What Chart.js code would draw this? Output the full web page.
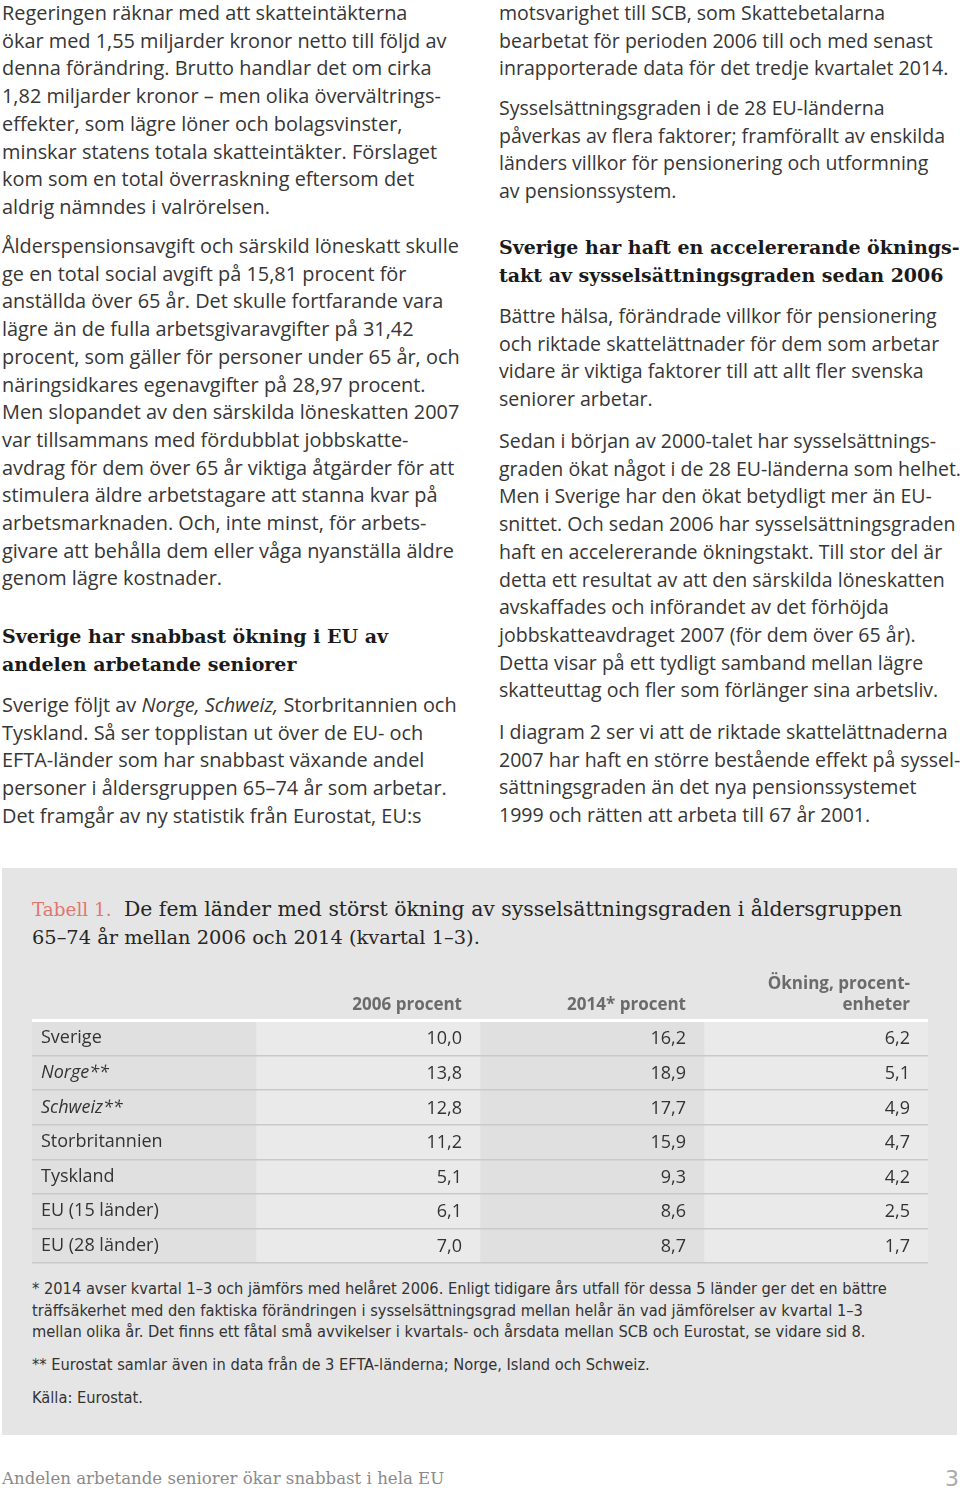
<!DOCTYPE html>
<html lang="sv">
<head>
<meta charset="UTF-8">
<title>Tabell 1</title>
<script src="https://cdn.jsdelivr.net/npm/chart.js"></script>
<style>
    html, body { margin: 0; padding: 0; background: #fff; }
    body { width: 960px; height: 1493px; position: relative; overflow: hidden; font-family: "Open Sans", sans-serif; color: #363636; }
    .txt { position: absolute; font-size: 19.9px; line-height: 27.7px; white-space: nowrap; }
    .txt.r { font-size: 19.55px; }
    .rub { position: absolute; font-family: "DejaVu Serif", serif; font-weight: bold; font-size: 19px; line-height: 28px; color: #1a1a1a; white-space: nowrap; }
    .box { position: absolute; left: 2px; top: 868px; width: 955px; height: 567px; background: #e5e5e5; }
    .title { position: absolute; left: 32px; top: 895px; font-family: "DejaVu Serif", serif; font-size: 19.4px; line-height: 28px; color: #262626; white-space: nowrap; }
    .title .nr { color: #e2766f; font-size: 18.4px; }
    .title .l1 { font-size: 20.4px; }
    .note { position: absolute; left: 32px; font-family: "DejaVu Sans Condensed", "Liberation Sans Narrow", sans-serif; font-size: 16.3px; line-height: 21.5px; color: #333; white-space: nowrap; }
    #chartWrap { position: absolute; left: 32px; top: 965px; width: 896px; height: 301px; }
    .foot { position: absolute; left: 2px; top: 1469px; font-family: "DejaVu Serif", serif; font-size: 16.6px; color: #8a8a8a; white-space: nowrap; }
    .page { position: absolute; left: 945px; top: 1466px; font-family: "DejaVu Sans", sans-serif; font-size: 22px; color: #aaa; }
</style>
</head>
<body>

<div class="txt" style="left:2px; top:-1px;">Regeringen räknar med att skatteintäkterna<br>ökar med 1,55 miljarder kronor netto till följd av<br>denna förändring. Brutto handlar det om cirka<br>1,82 miljarder kronor – men olika övervältrings-<br>effekter, som lägre löner och bolagsvinster,<br>minskar statens totala skatteintäkter. Förslaget<br>kom som en total överraskning eftersom det<br>aldrig nämndes i valrörelsen.</div>

<div class="txt" style="left:2px; top:232px;">Ålderspensionsavgift och särskild löneskatt skulle<br>ge en total social avgift på 15,81 procent för<br>anställda över 65 år. Det skulle fortfarande vara<br>lägre än de fulla arbetsgivaravgifter på 31,42<br>procent, som gäller för personer under 65 år, och<br>näringsidkares egenavgifter på 28,97 procent.<br>Men slopandet av den särskilda löneskatten 2007<br>var tillsammans med fördubblat jobbskatte-<br>avdrag för dem över 65 år viktiga åtgärder för att<br>stimulera äldre arbetstagare att stanna kvar på<br>arbetsmarknaden. Och, inte minst, för arbets-<br>givare att behålla dem eller våga nyanställa äldre<br>genom lägre kostnader.</div>

<div class="rub" style="left:2px; top:622px;">Sverige har snabbast ökning i EU av<br>andelen arbetande seniorer</div>

<div class="txt" style="left:2px; top:691px;">Sverige följt av <i>Norge, Schweiz,</i> Storbritannien och<br>Tyskland. Så ser topplistan ut över de EU- och<br>EFTA-länder som har snabbast växande andel<br>personer i åldersgruppen 65–74 år som arbetar.<br>Det framgår av ny statistik från Eurostat, EU:s</div>

<div class="txt r" style="left:499px; top:-1px;">motsvarighet till SCB, som Skattebetalarna<br>bearbetat för perioden 2006 till och med senast<br>inrapporterade data för det tredje kvartalet 2014.</div>

<div class="txt r" style="left:499px; top:94px;">Sysselsättningsgraden i de 28 EU-länderna<br>påverkas av flera faktorer; framförallt av enskilda<br>länders villkor för pensionering och utformning<br>av pensionssystem.</div>

<div class="rub" style="left:499px; top:233px;">Sverige har haft en accelererande öknings-<br>takt av sysselsättningsgraden sedan 2006</div>

<div class="txt r" style="left:499px; top:302px;">Bättre hälsa, förändrade villkor för pensionering<br>och riktade skattelättnader för dem som arbetar<br>vidare är viktiga faktorer till att allt fler svenska<br>seniorer arbetar.</div>

<div class="txt r" style="left:499px; top:427px;">Sedan i början av 2000-talet har sysselsättnings-<br>graden ökat något i de 28 EU-länderna som helhet.<br>Men i Sverige har den ökat betydligt mer än EU-<br>snittet. Och sedan 2006 har sysselsättningsgraden<br>haft en accelererande ökningstakt. Till stor del är<br>detta ett resultat av att den särskilda löneskatten<br>avskaffades och införandet av det förhöjda<br>jobbskatteavdraget 2007 (för dem över 65 år).<br>Detta visar på ett tydligt samband mellan lägre<br>skatteuttag och fler som förlänger sina arbetsliv.</div>

<div class="txt r" style="left:499px; top:718px;">I diagram 2 ser vi att de riktade skattelättnaderna<br>2007 har haft en större bestående effekt på syssel-<br>sättningsgraden än det nya pensionssystemet<br>1999 och rätten att arbeta till 67 år 2001.</div>

<div class="box"></div>
<div class="title"><span class="nr">Tabell 1.</span>&nbsp; <span class="l1">De fem länder med störst ökning av sysselsättningsgraden i åldersgruppen</span><br>65–74 år mellan 2006 och 2014 (kvartal 1–3).</div>

<div id="chartWrap"><canvas id="tabell" width="896" height="301"></canvas></div>

<div class="note" style="top:1278px;">* 2014 avser kvartal 1–3 och jämförs med helåret 2006. Enligt tidigare års utfall för dessa 5 länder ger det en bättre<br>träffsäkerhet med den faktiska förändringen i sysselsättningsgrad mellan helår än vad jämförelser av kvartal 1–3<br>mellan olika år. Det finns ett fåtal små avvikelser i kvartals- och årsdata mellan SCB och Eurostat, se vidare sid 8.</div>
<div class="note" style="top:1354px;">** Eurostat samlar även in data från de 3 EFTA-länderna; Norge, Island och Schweiz.</div>
<div class="note" style="top:1387px;">Källa: Eurostat.</div>

<div class="foot">Andelen arbetande seniorer ökar snabbast i hela EU</div>
<div class="page">3</div>

<script>
    // tabellens data
    const countries = ['Sverige', 'Norge**', 'Schweiz**', 'Storbritannien', 'Tyskland', 'EU (15 länder)', 'EU (28 länder)'];
    const pct2006 = [10.0, 13.8, 12.8, 11.2, 5.1, 6.1, 7.0];
    const pct2014 = [16.2, 18.9, 17.7, 15.9, 9.3, 8.6, 8.7];
    const change = [6.2, 5.1, 4.9, 4.7, 4.2, 2.5, 1.7];
    const headers = [[''], ['2006 procent'], ['2014* procent'], ['Ökning, procent-', 'enheter']];

    const italicCountries = ['Norge**', 'Schweiz**'];
    const colShades = ['#e0e0e0', '#eaeaea', '#e0e0e0', '#eaeaea'];
    const valueCols = [pct2006, pct2014, change];

    const fmt = v => v.toFixed(1).replace('.', ',');

    // en stapel per kolumn och rad ger cellbakgrunden
    const datasets = colShades.map((shade, c) => ({
        data: countries.map(() => [c, c + 1]),
        backgroundColor: shade,
        borderWidth: 0,
        categoryPercentage: 1,
        barPercentage: 1
    }));

    const cellText = {
        id: 'cellText',
        afterDraw(chart) {
            const ctx = chart.ctx;
            const x = chart.scales.x;
            const y = chart.scales.y;
            const top = chart.chartArea.top;
            ctx.save();
            ctx.textAlign = 'right';
            ctx.textBaseline = 'middle';

            // kolumnrubriker
            ctx.font = 'bold 17px "Open Sans"';
            ctx.fillStyle = '#6b6b6b';
            headers.forEach((lines, c) => {
                const right = x.getPixelForValue(c + 1) - 18;
                lines.forEach((line, k) => {
                    const fromBottom = lines.length - 1 - k;
                    ctx.fillText(line, right, top - 16 - fromBottom * 21);
                });
            });

            // värden
            ctx.font = '18px "Open Sans"';
            ctx.fillStyle = '#333';
            valueCols.forEach((vals, c) => {
                const right = x.getPixelForValue(c + 2) - 18;
                vals.forEach((v, i) => {
                    ctx.fillText(fmt(v), right, y.getPixelForValue(i) + 1);
                });
            });
            ctx.restore();
        }
    };

    new Chart(document.getElementById('tabell'), {
        type: 'bar',
        data: { labels: countries, datasets: datasets },
        options: {
            indexAxis: 'y',
            responsive: false,
            animation: false,
            layout: { padding: { top: 56, bottom: 3, left: 0, right: 0 } },
            plugins: { legend: { display: false }, tooltip: { enabled: false } },
            datasets: { bar: { grouped: false } },
            scales: {
                x: { type: 'linear', min: 0, max: headers.length, display: false },
                y: {
                    type: 'category',
                    offset: true,
                    border: { display: false },
                    afterFit: s => {
                        s.width = 0;
                        s.paddingTop = 0;
                        s.paddingBottom = 0;
                    },
                    grid: {
                        offset: true,
                        drawTicks: false,
                        z: 1,
                        color: c => (c.index === 0 || c.index === countries.length) ? '#ffffff' : '#c9c9c9',
                        lineWidth: c => (c.index === 0 || c.index === countries.length) ? 3 : 1.4
                    },
                    ticks: {
                        mirror: true,
                        padding: 9,
                        z: 1,
                        color: '#333',
                        font: c => ({
                            family: 'Open Sans',
                            size: 18,
                            style: italicCountries.includes(countries[c.index]) ? 'italic' : 'normal'
                        })
                    }
                }
            }
        },
        plugins: [cellText]
    });
</script>
</body>
</html>
